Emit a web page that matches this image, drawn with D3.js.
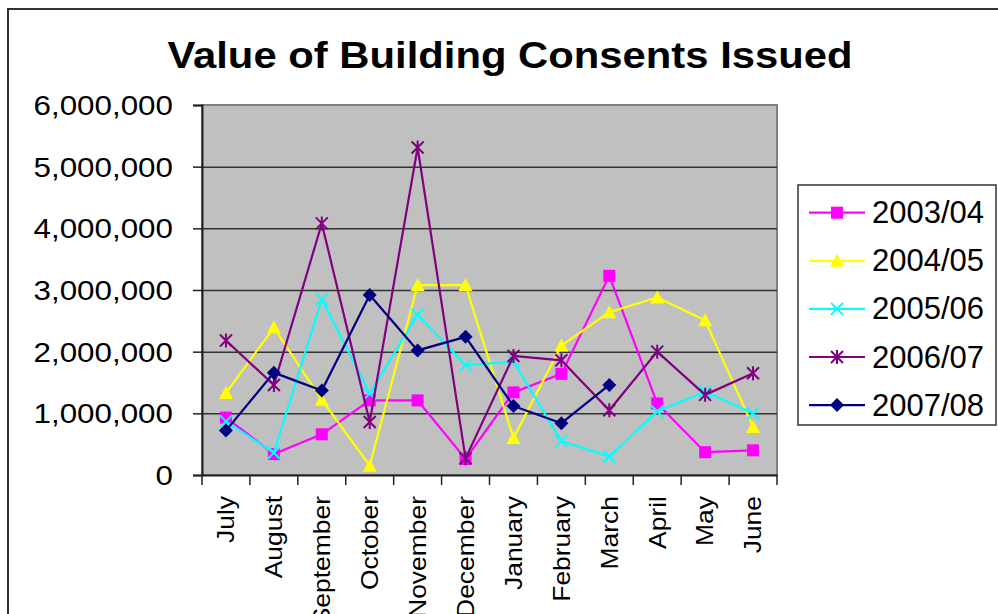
<!DOCTYPE html>
<html>
<head>
<meta charset="utf-8">
<script src="https://cdn.jsdelivr.net/npm/d3@7"></script>
<style>
  html, body { margin: 0; padding: 0; background: #fff; }
  svg { display: block; font-family: "Liberation Sans", Arial, sans-serif; }
</style>
</head>
<body>
<svg id="chart" width="998" height="614"></svg>
<script>
const months = ["July","August","September","October","November","December","January","February","March","April","May","June"];
const yTicks = [0, 1000000, 2000000, 3000000, 4000000, 5000000, 6000000];
const seriesNames = ["2003/04","2004/05","2005/06","2006/07","2007/08"];
const s2003 = [930000, 340000, 660000, 1210000, 1210000, 260000, 1340000, 1640000, 3230000, 1160000, 370000, 400000];
const s2004 = [1330000, 2390000, 1220000, 150000, 3080000, 3080000, 600000, 2100000, 2640000, 2880000, 2510000, 780000];
const s2005 = [870000, 360000, 2850000, 1320000, 2600000, 1780000, 1840000, 550000, 300000, 1030000, 1350000, 1000000];
const s2006 = [2180000, 1460000, 4080000, 860000, 5310000, 270000, 1930000, 1860000, 1050000, 2000000, 1300000, 1650000];
const s2007 = [720000, 1660000, 1370000, 2920000, 2020000, 2240000, 1120000, 840000, 1460000, null, null, null];
const seriesValues = [s2003, s2004, s2005, s2006, s2007];
const colors = ["#FF00FF", "#FFFF00", "#00FFFF", "#800080", "#000080"];
const markers = ["square", "triangle", "x", "asterisk", "diamond"];

const svg = d3.select("#chart");
const plot = {left: 202, right: 777, top: 105, bottom: 475};

// outer border
svg.append("rect").attr("x", 8).attr("y", 9).attr("width", 1100).attr("height", 700)
  .attr("fill", "#fff").attr("stroke", "#333").attr("stroke-width", 2);

// title
svg.append("text")
  .attr("transform", "translate(510,68) scale(1.13,1)")
  .attr("text-anchor", "middle")
  .attr("font-size", 37).attr("font-weight", "bold").attr("fill", "#000")
  .text("Value of Building Consents Issued");

const x = d3.scaleBand().domain(months).range([plot.left, plot.right]);
const y = d3.scaleLinear().domain([0, 6000000]).range([plot.bottom, plot.top]);

// plot area
svg.append("rect").attr("x", plot.left).attr("y", plot.top)
  .attr("width", plot.right - plot.left).attr("height", plot.bottom - plot.top)
  .attr("fill", "#C0C0C0").attr("stroke", "#808080").attr("stroke-width", 2);

// gridlines
svg.append("g").selectAll("line").data(yTicks.filter(d => d > 0 && d < 6000000)).join("line")
  .attr("x1", plot.left).attr("x2", plot.right)
  .attr("y1", d => y(d) + 0.5).attr("y2", d => y(d) + 0.5)
  .attr("stroke", "#333").attr("stroke-width", 1.5);

// y axis
const fmt = d3.format(",");
const yAxis = svg.append("g").attr("transform", `translate(${plot.left},0)`)
  .call(d3.axisLeft(y).tickValues(yTicks).tickSize(9).tickPadding(0).tickFormat(() => ""));
yAxis.select(".domain").attr("stroke", "#222").attr("stroke-width", 2);
yAxis.selectAll(".tick line").attr("stroke", "#222").attr("stroke-width", 1.5);
svg.append("g").selectAll("text").data(yTicks).join("text")
  .attr("transform", d => `translate(173,${y(d) + 10}) scale(1.12,1)`)
  .attr("text-anchor", "end").attr("font-size", 28).attr("fill", "#000")
  .text(d => fmt(d));

// x axis
const xAxis = svg.append("g").attr("transform", `translate(0,${plot.bottom})`)
  .call(d3.axisBottom(x).tickSize(0).tickFormat(() => ""));
xAxis.select(".domain").attr("stroke", "#222").attr("stroke-width", 2);
xAxis.selectAll(".tick line").remove();
const edges = months.map(m => x(m)).concat([plot.right]);
svg.append("g").selectAll("line").data(edges).join("line")
  .attr("x1", d => d).attr("x2", d => d)
  .attr("y1", plot.bottom).attr("y2", plot.bottom + 10)
  .attr("stroke", "#222").attr("stroke-width", 1.5);
svg.append("g").selectAll("text").data(months).join("text")
  .attr("transform", d => `translate(${x(d) + x.bandwidth() / 2},496) rotate(-90) scale(1.15,1)`)
  .attr("text-anchor", "end").attr("dy", "0.36em")
  .attr("font-size", 23).attr("fill", "#000")
  .text(d => d);

// marker drawing
function drawMarker(g, type, color, cx, cy) {
  if (type === "square") {
    g.append("rect").attr("x", cx - 6).attr("y", cy - 6).attr("width", 12).attr("height", 12).attr("fill", color);
  } else if (type === "triangle") {
    g.append("path").attr("d", `M${cx},${cy - 7}L${cx + 7},${cy + 6}L${cx - 7},${cy + 6}Z`).attr("fill", color);
  } else if (type === "diamond") {
    g.append("path").attr("d", `M${cx},${cy - 7}L${cx + 7},${cy}L${cx},${cy + 7}L${cx - 7},${cy}Z`).attr("fill", color);
  } else if (type === "x") {
    g.append("path").attr("d", `M${cx - 6},${cy - 6}L${cx + 6},${cy + 6}M${cx + 6},${cy - 6}L${cx - 6},${cy + 6}`)
      .attr("stroke", color).attr("stroke-width", 2).attr("fill", "none");
  } else if (type === "asterisk") {
    g.append("path").attr("d", `M${cx - 6},${cy - 6}L${cx + 6},${cy + 6}M${cx + 6},${cy - 6}L${cx - 6},${cy + 6}M${cx},${cy - 7}L${cx},${cy + 7}`)
      .attr("stroke", color).attr("stroke-width", 2).attr("fill", "none");
  }
}

// series
const line = d3.line()
  .defined(d => d.v !== null)
  .x(d => x(d.m) + x.bandwidth() / 2)
  .y(d => y(d.v));

seriesValues.forEach((vals, i) => {
  const data = months.map((m, j) => ({m, v: vals[j]}));
  const g = svg.append("g");
  g.append("path").datum(data).attr("d", line)
    .attr("fill", "none").attr("stroke", colors[i]).attr("stroke-width", 2.2).attr("stroke-linejoin", "miter");
  data.filter(d => d.v !== null).forEach(d => {
    drawMarker(g, markers[i], colors[i], x(d.m) + x.bandwidth() / 2, y(d.v));
  });
});

// legend
const legend = svg.append("g");
legend.append("rect").attr("x", 798).attr("y", 185).attr("width", 198).attr("height", 240)
  .attr("fill", "#fff").attr("stroke", "#333").attr("stroke-width", 1.5);
seriesNames.forEach((name, i) => {
  const ly = 212.7 + i * 48.1;
  legend.append("line").attr("x1", 809).attr("x2", 865).attr("y1", ly).attr("y2", ly)
    .attr("stroke", colors[i]).attr("stroke-width", 2.2);
  drawMarker(legend, markers[i], colors[i], 837, ly);
  legend.append("text").attr("x", 872).attr("y", ly + 10.5)
    .attr("font-size", 31).attr("fill", "#000").text(name);
});
</script>
</body>
</html>
